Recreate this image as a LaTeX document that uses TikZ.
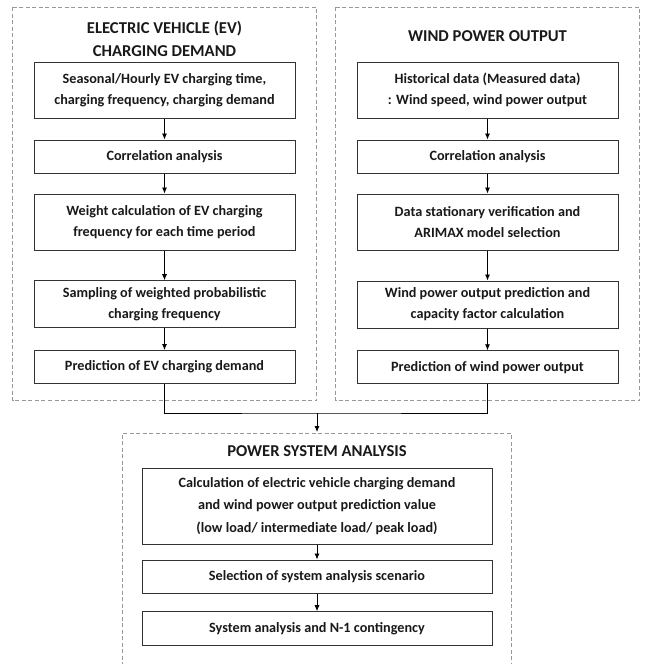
\documentclass[tikz,border=0pt]{standalone}
\usepackage{fontspec}
\setmainfont{Carlito}
\usetikzlibrary{positioning,arrows.meta}

\begin{document}
\begin{tikzpicture}[x=1pt,y=1pt]
    \tikzstyle{every node}=[inner sep=0,font=\bfseries\fontsize{14.2}{21}\selectfont,text=black!90]
    \tikzstyle{frame}=[draw=gray!80,dash pattern=on 4pt off 2.5pt,line width=0.8]
    \tikzstyle{stage}=[draw=black!80,line width=1,fill=white,rectangle,align=center,minimum width=261]
    \tikzstyle{wide}=[stage,minimum width=350]
    \tikzstyle{title}=[align=center,font=\bfseries\fontsize{16.6}{23}\selectfont]
    \tikzstyle{flow}=[-{Latex[length=6,width=5]},line width=0.8]
    \useasboundingbox (0,0) rectangle (646,-664);

    % dashed frames
    \draw[frame] (12.5,-7) rectangle (316.5,-400.5);
    \draw[frame] (335.5,-7) rectangle (639.5,-400.5);
    \draw[frame] (122,-666) -- (122,-433) -- (511,-433) -- (511,-666);

    % electric vehicle column
    \node[title] (evtitle) at (164.5,-38.5) {ELECTRIC VEHICLE (EV)\\CHARGING DEMAND};
    \node[stage,minimum height=56.5] (ev1) at (164.5,-90.3) {Seasonal/Hourly EV charging time,\\charging frequency, charging demand};
    \node[stage,minimum height=33] (ev2) at (164.5,-156.5) {Correlation analysis};
    \node[stage,minimum height=56] (ev3) at (164.5,-222) {Weight calculation of EV charging\\frequency for each time period};
    \node[stage,minimum height=47] (ev4) at (164.5,-304.2) {Sampling of weighted probabilistic\\charging frequency};
    \node[stage,minimum height=33] (ev5) at (164.5,-367) {Prediction of EV charging demand};

    % wind power column
    \node[title] (wptitle) at (487.5,-36) {WIND POWER OUTPUT};
    \node[stage,minimum height=56.5] (wp1) at (487.5,-90.3) {Historical data (Measured data)\\: Wind speed, wind power output};
    \node[stage,minimum height=33] (wp2) at (487.5,-156.5) {Correlation analysis};
    \node[stage,minimum height=56] (wp3) at (487.5,-222) {Data stationary verification and\\ARIMAX model selection};
    \node[stage,minimum height=47] (wp4) at (487.5,-304.5) {Wind power output prediction and\\capacity factor calculation};
    \node[stage,minimum height=33] (wp5) at (487.5,-367.3) {Prediction of wind power output};

    % power system analysis
    \node[title] (pstitle) at (317,-451) {POWER SYSTEM ANALYSIS};
    \node[wide,minimum height=76,font=\bfseries\fontsize{14.2}{22.5}\selectfont] (ps1) at (317,-506) {Calculation of electric vehicle charging demand\\and wind power output prediction value\\(low load/ intermediate load/ peak load)};
    \node[wide,minimum height=33] (ps2) at (317,-576.5) {Selection of system analysis scenario};
    \node[wide,minimum height=34] (ps3) at (317,-628.7) {System analysis and N-1 contingency};

    \foreach \a/\b in {ev1/ev2,ev2/ev3,ev3/ev4,ev4/ev5,wp1/wp2,wp2/wp3,wp3/wp4,wp4/wp5,ps1/ps2,ps2/ps3}
        \draw[flow] (\a) -- (\b);

    \coordinate (join) at (317,-413);
    \coordinate (psin) at (317,-432);
    \draw[line width=0.8] (ev5.south) |- (join) -| (wp5.south);
    \draw[flow] (join) -- (psin);
\end{tikzpicture}
\end{document}
